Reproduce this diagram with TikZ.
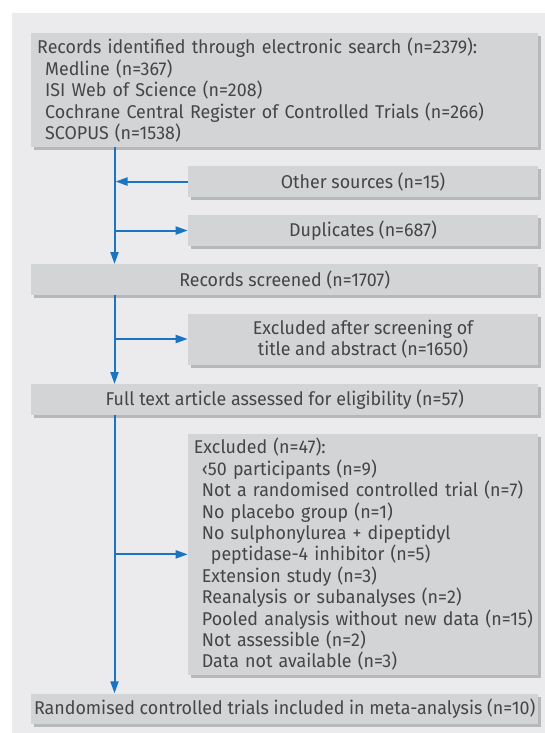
\documentclass[tikz,border=0pt]{standalone}
\usepackage{fontspec}
\setmainfont{Fira Sans}[FakeStretch=0.965]
\usetikzlibrary{arrows.meta,shadows,calc}
\definecolor{panel}{HTML}{EBEBED}
\definecolor{boxfill}{HTML}{D3D4D6}
\definecolor{shadowc}{HTML}{B7B8BA}
\definecolor{flowblue}{HTML}{1A74C0}
\definecolor{txt}{HTML}{454545}
\hfuzz=20pt
\tikzset{
  flowbox/.style={draw=none, fill=boxfill, anchor=north west, inner xsep=6pt, inner ysep=0pt,
    text=txt, font=\fontsize{18.5}{21.4}\selectfont,
    drop shadow={shadow xshift=3pt, shadow yshift=-3pt, fill=shadowc, opacity=1}},
  widebox/.style={flowbox, minimum width=507pt},
  sidebox/.style={flowbox, minimum width=350.3pt},
  widetext/.style={widebox, text width=495pt, align=left},
  sidetext/.style={sidebox, text width=338.3pt, align=left},
  arr/.style={draw=flowblue, line width=2pt, -{Triangle[length=12pt,width=8pt]}}
}
\begin{document}
\begin{tikzpicture}[x=1pt,y=1pt]
\useasboundingbox (0,0) rectangle (545,-733);
\fill[panel] (12,-13) rectangle (545,-733);
\coordinate (main) at (114.5,0);

\node[widetext, minimum height=114pt] (b1) at (31,-33)
 {Records identified through electronic search (n=2379):\\
  \hspace*{8pt}Medline (n=367)\\
  \hspace*{8pt}ISI Web of Science (n=208)\\
  \hspace*{8pt}\mbox{Cochrane Central Register of Controlled Trials (n=266)}\\
  \hspace*{8pt}SCOPUS (n=1538)};
\node[sidebox, minimum height=30.7pt] (other) at (187.7,-166) {Other sources (n=15)};
\node[sidebox, minimum height=30.7pt] (dup) at (187.7,-215) {Duplicates (n=687)};
\node[widebox, minimum height=30.7pt] (scr) at (31,-264) {Records screened (n=1707)};
\node[sidebox, align=center, minimum height=51pt] (ex1) at (187.7,-313.3)
 {Excluded after screening of\\title and abstract (n=1650)};
\node[widebox, minimum height=31pt] (full) at (31,-384) {Full text article assessed for eligibility (n=57)};
\node[sidetext, minimum height=241.7pt] (ex2) at (187.7,-433.3)
 {Excluded (n=47):\\
  \hspace*{8pt}‹50 participants (n=9)\\
  \hspace*{8pt}\mbox{Not a randomised controlled trial (n=7)}\\
  \hspace*{8pt}No placebo group (n=1)\\
  \hspace*{8pt}No sulphonylurea + dipeptidyl\\
  \hspace*{17pt}peptidase-4 inhibitor (n=5)\\
  \hspace*{8pt}Extension study (n=3)\\
  \hspace*{8pt}Reanalysis or subanalyses (n=2)\\
  \hspace*{8pt}\mbox{Pooled analysis without new data (n=15)}\\
  \hspace*{8pt}Not assessible (n=2)\\
  \hspace*{8pt}Data not available (n=3)};
\node[widebox, inner xsep=0pt, minimum height=30.7pt] (rand) at (31,-693.3)
 {Randomised controlled trials included in meta-analysis (n=10)};

\draw[arr] (b1.south -| main) -- (scr.north -| main);
\draw[arr] (other.west) -- ($(other.west -| main)+(1pt,0)$);
\draw[arr] (dup.west -| main) -- (dup.west);
\draw[arr] (scr.south -| main) -- (full.north -| main);
\draw[arr] (ex1.west -| main) -- (ex1.west);
\draw[arr] (full.south -| main) -- (rand.north -| main);
\draw[arr] (ex2.west -| main) -- (ex2.west);
\end{tikzpicture}
\end{document}
